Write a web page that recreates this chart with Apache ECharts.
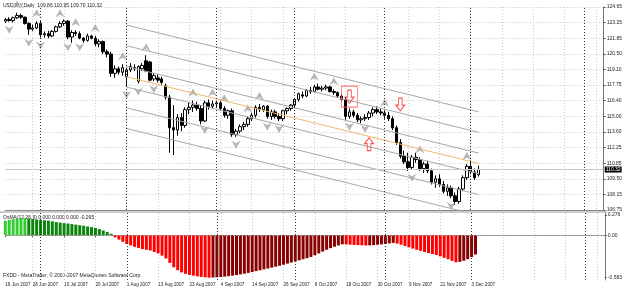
<!DOCTYPE html>
<html><head><meta charset="utf-8">
<script src="https://cdn.jsdelivr.net/npm/echarts@6/dist/echarts.min.js"></script>
<style>html,body{margin:0;padding:0;background:#fff}#c{width:625px;height:290px}</style>
</head><body><div id="c"></div>
<script>
// ---- categories (trading days) ----
const monthDays = [
  ['Jun', [19,20,21,22,25,26,27,28,29]],
  ['Jul', [2,3,4,5,6,9,10,11,12,13,16,17,18,19,20,23,24,25,26,27,30,31]],
  ['Aug', [1,2,3,6,7,8,9,10,13,14,15,16,17,20,21,22,23,24,27,28,29,30,31]],
  ['Sep', [3,4,5,6,7,10,11,12,13,14,17,18,19,20,21,24,25,26,27,28]],
  ['Oct', [1,2,3,4,5,8,9,10,11,12,15,16,17,18,19,22,23,24,25,26,29,30,31]],
  ['Nov', [1,2,5,6,7,8,9,12,13,14,15,16,19,20,21,22,23,26,27,28,29,30]],
  ['Dec', [3,4,5]]
];
const futureSlots = 32;
const xTickLabels = ['19 Jun 2007','28 Jun 2007','10 Jul 2007','20 Jul 2007','1 Aug 2007','13 Aug 2007','23 Aug 2007','4 Sep 2007','14 Sep 2007','26 Sep 2007','8 Oct 2007','18 Oct 2007','30 Oct 2007','9 Nov 2007','21 Nov 2007','3 Dec 2007'];
const separatorIdx = [9, 31, 54, 74, 97, 119, 148];

// ---- OHLC ----
const opens = [123.40,123.55,123.45,123.70,123.90,123.75,123.20,122.70,122.80,123.20,122.20,122.30,122.10,122.50,122.90,123.20,123.40,122.00,122.40,122.30,121.90,121.70,122.10,121.90,121.40,121.60,120.70,120.50,118.80,119.20,118.90,
 118.50,119.10,119.30,118.10,119.20,119.90,119.80,118.30,118.40,118.30,117.70,116.70,114.00,113.80,114.90,114.20,115.60,115.80,116.00,115.70,114.60,116.20,115.90,
 116.10,116.20,115.70,115.10,115.50,113.40,113.70,114.10,114.30,114.80,115.10,115.80,115.60,115.90,115.00,115.40,115.00,114.80,115.50,115.70,
 116.00,116.50,116.90,116.80,117.30,117.20,117.60,117.40,117.50,117.60,117.20,117.10,116.80,116.50,115.00,115.40,115.10,114.70,114.80,114.90,115.30,115.60,115.40,
 115.30,115.10,114.80,114.00,112.70,111.50,111.00,110.50,111.40,111.20,110.40,110.80,110.20,109.20,109.50,109.00,108.40,108.70,108.00,107.50,108.60,109.60,110.60,110.10,109.86];
const highs = [123.70,123.75,123.80,124.15,124.05,123.80,123.30,123.10,123.40,123.45,122.50,122.55,122.60,123.00,123.40,123.55,123.50,122.60,122.60,122.50,122.00,122.30,122.20,122.10,121.80,121.70,120.90,120.70,119.50,119.40,119.60,
 119.30,119.70,119.60,119.50,119.70,120.40,119.90,118.80,118.70,118.50,117.90,116.90,116.00,115.20,115.30,115.80,116.20,116.40,116.30,116.00,116.40,116.50,116.40,
 116.40,116.40,115.90,115.60,115.70,113.90,114.30,114.50,115.00,115.30,116.00,116.10,116.00,116.00,115.60,115.60,115.30,115.60,115.80,116.10,
 116.60,117.10,117.20,117.40,117.60,117.80,117.90,117.70,117.80,117.70,117.40,117.20,117.00,116.70,115.70,115.60,115.30,115.00,115.20,115.50,115.80,115.90,115.70,
 115.50,115.40,115.00,114.20,113.00,112.00,111.80,111.60,111.80,111.40,111.00,111.10,110.40,109.80,109.90,109.30,109.00,108.90,108.30,108.80,109.80,110.80,111.10,110.40,110.65];
const lows = [123.25,123.35,123.30,123.60,123.60,123.10,122.20,122.55,122.70,121.95,121.95,121.90,122.00,122.40,122.80,123.00,121.80,121.50,122.10,121.80,121.50,121.60,121.80,121.20,121.10,120.50,120.20,118.50,118.40,118.70,118.60,
 117.60,118.90,119.00,117.90,119.00,118.90,118.10,118.10,118.00,117.80,116.50,111.80,111.60,113.30,113.70,114.00,115.20,115.40,115.50,114.30,114.50,115.60,115.70,
 115.80,115.50,114.90,114.80,113.20,113.20,113.50,113.80,114.10,114.60,114.90,115.40,115.40,114.80,114.70,114.80,114.60,114.60,115.20,115.50,
 115.80,116.30,116.60,116.70,117.00,117.10,117.30,117.20,117.30,117.10,116.90,116.70,116.30,114.70,114.80,114.90,114.50,114.40,114.60,114.70,115.00,115.20,115.10,
 114.80,114.60,113.80,112.50,111.30,110.80,110.20,110.30,110.90,110.20,110.00,110.00,109.00,108.70,108.80,108.20,108.00,107.80,107.20,107.30,108.40,109.40,109.90,109.40,109.70];
const closes = [123.55,123.45,123.70,123.90,123.75,123.20,122.70,122.80,123.20,122.20,122.30,122.10,122.50,122.90,123.20,123.40,122.00,122.40,122.30,121.90,121.70,122.10,121.90,121.40,121.60,120.70,120.50,118.80,119.20,118.90,119.30,
 119.10,119.40,119.20,119.40,119.50,119.00,118.20,118.60,118.20,118.00,116.70,114.00,113.80,114.90,114.20,115.60,115.80,116.00,115.70,114.60,116.20,115.90,116.10,
 116.20,115.70,115.10,115.50,113.40,113.70,114.10,114.30,114.80,115.10,115.80,115.60,115.90,115.00,115.40,115.00,114.80,115.50,115.70,116.00,
 116.50,117.00,116.80,117.30,117.20,117.60,117.40,117.50,117.60,117.20,117.10,116.80,116.50,115.00,115.40,115.10,114.70,114.80,114.90,115.30,115.60,115.40,115.30,
 115.10,114.80,114.00,112.70,111.50,111.00,110.50,111.40,111.20,110.40,110.80,110.20,109.20,109.50,109.00,108.40,108.70,108.00,107.50,108.60,109.60,110.60,110.10,109.60,110.32];

// ---- price axis ----
const priceMin = 106.75, priceMax = 124.65;
const priceTickLabels = ['106.75','108.15','109.50','110.85','112.25','113.60','115.00','116.40','117.75','119.10','120.50','121.85','123.25','124.65'];
const bidPrice = 110.32;

// ---- fractals (bar indices) ----
const upFractals = [3, 8, 14, 18, 23, 30, 36, 48, 53, 56, 62, 65, 79, 84, 97, 106, 118];
const downFractals = [1, 6, 9, 16, 19, 31, 34, 38, 51, 59, 67, 70, 88, 92, 104, 114];

// ---- regression channel ----
const channelStart = 31, channelEnd = 121;
const channelStartPrices = [123.06, 121.24, 119.41, 117.59, 115.76, 113.94];
const channelEndPrices   = [115.41, 113.60, 111.77, 109.95, 108.12, 106.29];
const channelMid = [118.50, 110.86];

// ---- red annotation arrows: [idx, price] ----
const redDownArrows = [[88, 116.75], [101, 116.05]];
const redUpArrows = [[93, 112.55]];
const redBox = [[88, 116.75]];

// ---- OsMA histogram ----
const osma = [0.200,0.210,0.220,0.225,0.230,0.232,0.228,0.222,0.215,0.210,0.205,0.200,0.190,0.180,0.172,0.165,0.160,0.152,0.145,0.137,0.130,0.120,0.110,0.100,0.085,0.065,0.045,0.020,
 -0.030,-0.060,-0.090,-0.120,-0.140,-0.160,-0.175,-0.190,-0.200,-0.210,-0.230,-0.250,-0.280,-0.320,-0.380,-0.440,-0.480,-0.510,-0.530,-0.545,-0.555,-0.565,-0.572,-0.578,-0.583,
 -0.580,-0.577,-0.573,-0.568,-0.562,-0.555,-0.547,-0.538,-0.528,-0.517,-0.505,-0.493,-0.481,-0.469,-0.457,-0.445,-0.432,-0.419,-0.405,-0.390,-0.375,-0.360,-0.345,-0.330,-0.315,-0.298,-0.275,-0.250,-0.225,-0.200,-0.178,-0.158,-0.140,-0.125,
 -0.127,-0.130,-0.133,-0.136,-0.139,-0.142,
 -0.140,-0.136,-0.131,-0.126,-0.120,-0.113,-0.106,
 -0.115,-0.130,-0.148,-0.166,-0.184,-0.200,-0.215,-0.230,-0.245,-0.258,-0.272,-0.290,-0.310,-0.330,-0.352,-0.372,
 -0.365,-0.350,-0.330,-0.300,-0.265];
const osmaMin = -0.583, osmaMax = 0.276;

// ---------------- build ----------------
const categories = [];
monthDays.forEach(([m, days]) => days.forEach(d => categories.push(d + ' ' + m + ' 2007')));
for (let k = 0; k < futureSlots; k++) categories.push('f' + k);
const labelSet = new Set(xTickLabels);
const candleData = opens.map((o, i) => [o, closes[i], lows[i], highs[i]]);

const oscColors = osma.map((v, i) => {
  const prev = i > 0 ? osma[i - 1] : v - 0.001;
  if (v >= 0) return v >= prev ? '#33cc33' : '#0c850c';
  return v <= prev ? '#ff0000' : '#8a0000';
});

const priceInterval = (priceMax - priceMin) / (priceTickLabels.length - 1);
const FONT = 'Liberation Sans';
const chart = echarts.init(document.getElementById('c'), null, {renderer: 'canvas'});

const gridLeft = 5.3, gridRight = 18.4;
const sepLines = separatorIdx.map(i => ({xAxis: i}));

const series = [
  {
    type: 'candlestick', name: 'USDJPY', xAxisIndex: 0, yAxisIndex: 0,
    data: candleData, barWidth: 3, clip: false,
    itemStyle: {color: '#ffffff', color0: '#000000', borderColor: '#000000', borderColor0: '#000000', borderWidth: 1},
    markLine: {
      silent: true, symbol: 'none', animation: false,
      data: [
        ...sepLines.map(d => Object.assign({lineStyle: {color: '#333', type: [1, 2], width: 1}, label: {show: false}}, d)),
        {yAxis: bidPrice, lineStyle: {color: '#c8c8c8', type: 'solid', width: 1},
         label: {show: true, position: 'end', distance: 1, formatter: bidPrice.toFixed(2), color: '#fff', backgroundColor: '#000', padding: [1, 1, 0, 1], fontSize: 5, fontFamily: FONT}}
      ]
    }
  }
];

channelStartPrices.forEach((p, k) => {
  series.push({type: 'line', xAxisIndex: 0, yAxisIndex: 0, symbol: 'none', silent: true, animation: false,
    lineStyle: {color: '#a8a8a8', width: 1}, data: [[channelStart, p], [channelEnd, channelEndPrices[k]]]});
});
series.push({type: 'line', xAxisIndex: 0, yAxisIndex: 0, symbol: 'none', silent: true, animation: false,
  lineStyle: {color: '#f0b868', width: 1}, data: [[channelStart, channelMid[0]], [channelEnd, channelMid[1]]]});

const upPath = 'path://M5,0 L10,10 L5,7 L0,10 Z';
const dnPath = 'path://M0,0 L5,3 L10,0 L5,10 Z';
series.push({type: 'scatter', xAxisIndex: 0, yAxisIndex: 0, symbol: upPath, symbolSize: [9, 8], symbolOffset: [0, -8], silent: true, animation: false,
  itemStyle: {color: '#a4a4a4'}, data: upFractals.map(i => [i, highs[i]])});
series.push({type: 'scatter', xAxisIndex: 0, yAxisIndex: 0, symbol: dnPath, symbolSize: [9, 8], symbolOffset: [0, 8], silent: true, animation: false,
  itemStyle: {color: '#a4a4a4'}, data: downFractals.map(i => [i, lows[i]])});

const redDn = 'path://M3,0 L7,0 L7,7 L10,7 L5,13 L0,7 L3,7 Z';
const redUp = 'path://M5,0 L10,6 L7,6 L7,13 L3,13 L3,6 L0,6 Z';
series.push({type: 'scatter', xAxisIndex: 0, yAxisIndex: 0, symbol: redDn, symbolSize: [9, 13], silent: true, animation: false,
  itemStyle: {color: 'rgba(255,255,255,0)', borderColor: '#ff2020', borderWidth: 1}, data: redDownArrows, z: 5});
series.push({type: 'scatter', xAxisIndex: 0, yAxisIndex: 0, symbol: redUp, symbolSize: [9, 13], silent: true, animation: false,
  itemStyle: {color: 'rgba(255,255,255,0)', borderColor: '#ff2020', borderWidth: 1}, data: redUpArrows, z: 5});
series.push({type: 'scatter', xAxisIndex: 0, yAxisIndex: 0, symbol: 'rect', symbolSize: [16, 21], silent: true, animation: false,
  itemStyle: {color: 'rgba(255,255,255,0)', borderColor: '#ff6060', borderWidth: 1}, data: redBox, z: 5});

series.push({type: 'bar', xAxisIndex: 1, yAxisIndex: 1, barWidth: 3, silent: true, animation: false,
  data: osma.map((v, i) => ({value: v, itemStyle: {color: oscColors[i]}})),
  markLine: {silent: true, symbol: 'none', animation: false, label: {show: false},
    data: [
      ...sepLines.map(d => Object.assign({lineStyle: {color: '#333', type: [1, 2], width: 1}}, d)),
      {yAxis: 0, lineStyle: {color: '#c8c8c8', type: [1, 2], width: 1}}
    ]}
});

const xCommon = {
  type: 'category', data: categories, boundaryGap: false,
  splitLine: {show: true, interval: (idx) => idx >= 7 && (idx - 7) % 8 === 0, lineStyle: {color: '#c8c8c8', type: [1, 2], width: 1}},
};

chart.setOption({
  animation: false,
  backgroundColor: '#ffffff',
  textStyle: {fontFamily: FONT},
  grid: [
    {left: gridLeft, right: gridRight, top: 7, height: 203},
    {left: gridLeft, right: gridRight, top: 213, bottom: 10}
  ],
  xAxis: [
    Object.assign({}, xCommon, {gridIndex: 0, axisLine: {show: true, lineStyle: {color: '#888'}}, axisTick: {show: false}, axisLabel: {show: false}}),
    Object.assign({}, xCommon, {gridIndex: 1, axisLine: {show: true, lineStyle: {color: '#888'}},
      axisTick: {show: true, length: 2, interval: (idx, v) => labelSet.has(v), lineStyle: {color: '#555'}},
      axisLabel: {show: true, interval: (idx, v) => labelSet.has(v), align: 'left', fontSize: 4.6, color: '#222', margin: 2, fontFamily: FONT}})
  ],
  yAxis: [
    {type: 'value', gridIndex: 0, position: 'right', min: priceMin, max: priceMax, interval: priceInterval, scale: true,
     axisLine: {show: true, lineStyle: {color: '#777'}}, axisTick: {show: true, length: 2, lineStyle: {color: '#555'}},
     splitLine: {show: true, lineStyle: {color: '#c8c8c8', type: [1, 2], width: 1}},
     axisLabel: {fontSize: 5, color: '#222', margin: 3, fontFamily: FONT,
       formatter: (v) => { const k = Math.round((v - priceMin) / priceInterval); return Math.abs(priceMin + k * priceInterval - v) < 1e-6 ? priceTickLabels[k] : ''; }}},
    {type: 'value', gridIndex: 1, position: 'right', min: -0.6145, max: 0.3045,
     axisLine: {show: true, lineStyle: {color: '#777'}},
     axisTick: {show: true, length: 2, customValues: [osmaMin, 0, osmaMax], lineStyle: {color: '#555'}},
     splitLine: {show: false},
     axisLabel: {fontSize: 5, color: '#222', margin: 3, fontFamily: FONT, customValues: [osmaMin, 0, osmaMax],
       formatter: (v) => Math.abs(v) < 1e-9 ? '0.00' : v.toFixed(3)}}
  ],
  graphic: [
    {type: 'line', shape: {x1: 0, y1: 212, x2: 607, y2: 212}, style: {stroke: '#999', lineWidth: 1}, silent: true},
    {type: 'text', left: 3, top: 3, style: {text: 'USDJPY,Daily  109.86 110.95 109.70 110.32', fontSize: 5, fill: '#222', fontFamily: FONT}, silent: true},
    {type: 'text', left: 3, top: 215, style: {text: 'OsMA(12,26,9) 0.000 0.000 0.000 -0.265', fontSize: 5, fill: '#222', fontFamily: FONT}, silent: true},
    {type: 'text', left: 3, top: 273, style: {text: 'FXDD - MetaTrader, \u00a9 2001-2007 MetaQuotes Software Corp.', fontSize: 5, fill: '#222', fontFamily: FONT}, silent: true}
  ],
  series: series
});
</script>
</body></html>
